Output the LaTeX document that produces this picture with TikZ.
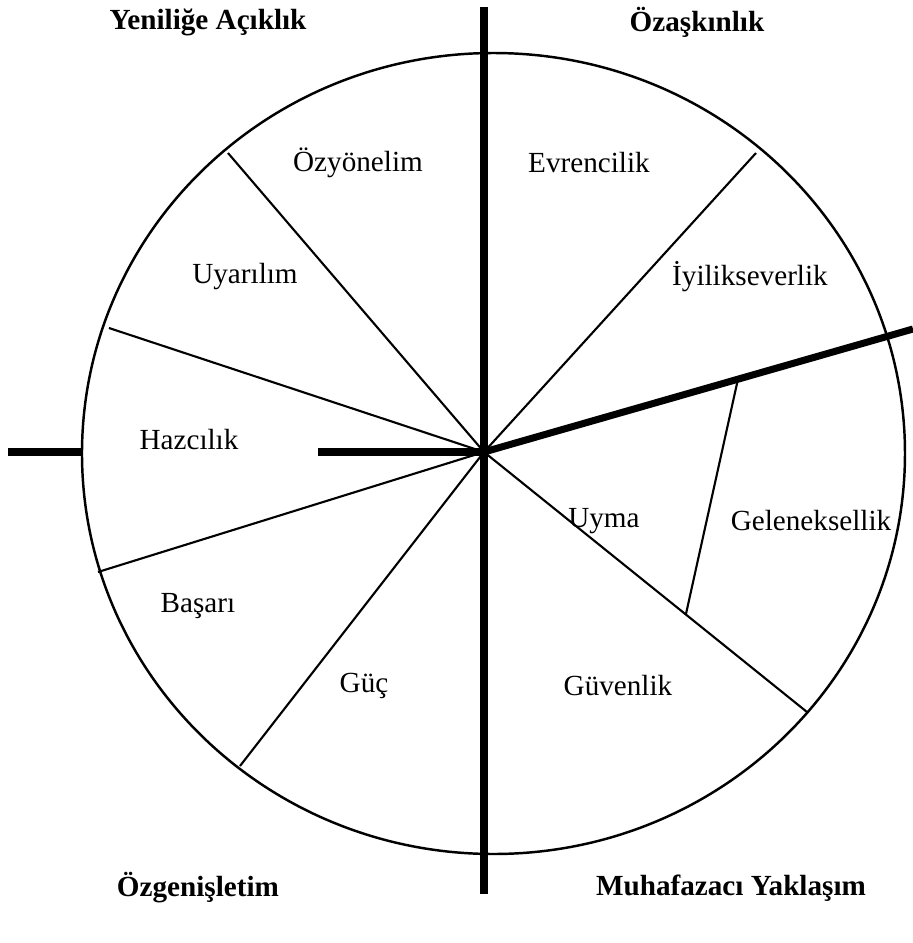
\documentclass[tikz,border=0pt]{standalone}
\usepackage{fontspec}
\setmainfont{Liberation Serif}
\usetikzlibrary{calc}

\begin{document}
\begin{tikzpicture}[
    spoke/.style={line width=0.6pt},
    axisline/.style={line width=2pt},
    lbl/.style={font=\fontsize{8.3}{10}\selectfont},
    title/.style={font=\fontsize{8.3}{10}\selectfont\bfseries}
]
    % Frame
    \useasboundingbox (-4.84,-4.91) rectangle (4.29,4.52);

    % Points
    \coordinate (o) at (0,0);
    \coordinate (top) at (0,4.45);
    \coordinate (bot) at (0,-4.42);
    \coordinate (lout) at (-4.76,0);
    \coordinate (ledge) at (-4.02,0);
    \coordinate (lin) at (-1.66,0);
    \coordinate (rt) at (4.29,1.23);
    \coordinate (ul) at (-2.56,2.99);
    \coordinate (ur) at (2.72,2.99);
    \coordinate (lu) at (-3.75,1.24);
    \coordinate (ld) at (-3.86,-1.20);
    \coordinate (ll) at (-2.44,-3.14);
    \coordinate (lr) at (3.23,-2.60);
    \coordinate (gt) at ($(o)!0.592!(rt)$);
    \coordinate (gb) at ($(o)!0.625!(lr)$);

    % Circle
    \draw[line width=0.7pt] (0.095,-0.015) ellipse (4.115 and 4.005);

    % Thin dividers
    \draw[spoke] (o) -- (ul);
    \draw[spoke] (o) -- (ur);
    \draw[spoke] (o) -- (lu);
    \draw[spoke] (o) -- (ld);
    \draw[spoke] (o) -- (ll);
    \draw[spoke] (o) -- (lr);
    \draw[spoke] (gt) -- (gb);

    % Thick dividers
    \draw[axisline] (top) -- (bot);
    \draw[axisline] (lout) -- (ledge);
    \draw[axisline] (lin) -- (o);
    \draw[axisline] (o) -- (rt);

    % Values
    \node[lbl] (ozy) at (-1.26,2.89) {Özyönelim};
    \node[lbl] (evr) at (1.05,2.89) {Evrencilik};
    \node[lbl] (uya) at (-2.39,1.75) {Uyarılım};
    \node[lbl] (iyi) at (2.66,1.75) {İyilikseverlik};
    \node[lbl] (haz) at (-2.95,0.12) {Hazcılık};
    \node[lbl] (uym) at (1.20,-0.69) {Uyma};
    \node[lbl] (gel) at (3.27,-0.69) {Geleneksellik};
    \node[lbl] (bas) at (-2.86,-1.54) {Başarı};
    \node[lbl] (guc) at (-1.20,-2.34) {Güç};
    \node[lbl] (guv) at (1.34,-2.34) {Güvenlik};

    % Dimensions
    \node[title] (yen) at (-2.76,4.30) {Yeniliğe Açıklık};
    \node[title] (oza) at (2.13,4.30) {Özaşkınlık};
    \node[title] (ozg) at (-2.86,-4.36) {Özgenişletim};
    \node[title] (muh) at (2.47,-4.36) {Muhafazacı Yaklaşım};
\end{tikzpicture}
\end{document}
